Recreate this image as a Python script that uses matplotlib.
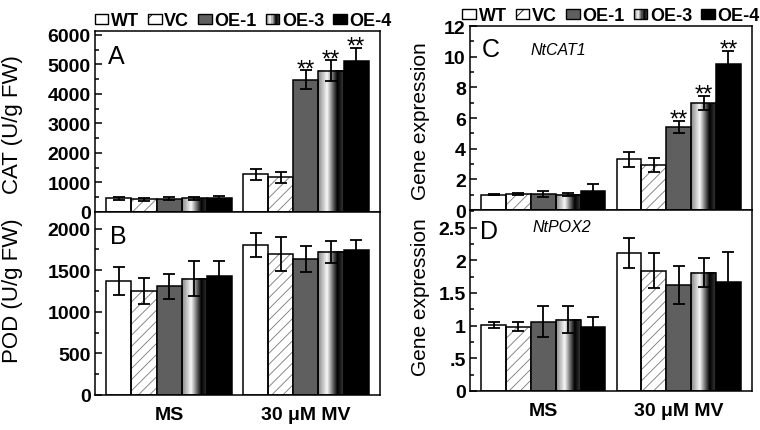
import numpy as np
import matplotlib
matplotlib.use("Agg")
import matplotlib.pyplot as plt
from matplotlib.colors import LinearSegmentedColormap
from matplotlib.patches import Rectangle, Patch
from matplotlib.legend_handler import HandlerBase
from matplotlib.ticker import MultipleLocator, FuncFormatter

plt.rcParams['font.family'] = ['Liberation Sans', 'DejaVu Sans']
plt.rcParams['font.weight'] = 'bold'
plt.rcParams['hatch.linewidth'] = 0.6

# data
groups = ["MS", "30 \u03bcM MV"]
lines = ["WT", "VC", "OE-1", "OE-3", "OE-4"]

cat_ms = [460, 425, 450, 460, 490]
cat_ms_err = [50, 50, 45, 55, 40]
cat_mv = [1280, 1170, 4480, 4780, 5130]
cat_mv_err = [190, 180, 320, 360, 420]

pod_ms = [1370, 1250, 1305, 1400, 1430]
pod_ms_err = [170, 160, 150, 215, 185]
pod_mv = [1808, 1700, 1639, 1720, 1739]
pod_mv_err = [143, 205, 155, 137, 125]

cat1_ms = [1.0, 1.05, 1.06, 1.0, 1.22]
cat1_ms_err = [0.03, 0.05, 0.18, 0.1, 0.45]
cat1_mv = [3.3, 2.95, 5.4, 6.97, 9.54]
cat1_mv_err = [0.48, 0.45, 0.41, 0.47, 0.83]

pox2_ms = [1.01, 0.985, 1.06, 1.09, 0.98]
pox2_ms_err = [0.05, 0.07, 0.24, 0.21, 0.15]
pox2_mv = [2.11, 1.84, 1.62, 1.81, 1.67]
pox2_mv_err = [0.23, 0.27, 0.29, 0.22, 0.45]

# significance marks (MV group only)
cat_sig = ["", "", "**", "**", "**"]
cat1_sig = ["", "", "**", "**", "**"]

GAP = 5.45
shade = LinearSegmentedColormap.from_list(
    "shade", [(0, "#8a8a8a"), (0.35, "#f7f7f7"), (0.75, "#000000"), (1, "#3a3a3a")])


class GradHandler(HandlerBase):
    def create_artists(self, legend, orig, xd, yd, w, h, fs, trans):
        arts = []
        n = 12
        for i in range(n):
            arts.append(Rectangle((-xd + w * i / n, -yd), w / n, h,
                                  facecolor=shade((i + 0.5) / n), edgecolor='none',
                                  transform=trans))
        arts.append(Rectangle((-xd, -yd), w, h, facecolor='none', edgecolor='black',
                              lw=1.0, transform=trans))
        return arts


def draw_panel(ax, ms, ms_err, mv, mv_err, ymax, major, minor, sig=None, fmt=None):
    for k in range(5):
        x = [k, k + GAP]
        h = [ms[k], mv[k]]
        e = [ms_err[k], mv_err[k]]
        if k == 0:
            ax.bar(x, h, width=1.0, facecolor='white', edgecolor='black', lw=1.1, zorder=2)
        elif k == 1:
            ax.bar(x, h, width=1.0, facecolor='white', edgecolor='#777777', lw=0,
                   hatch='///', zorder=1)
            ax.bar(x, h, width=1.0, facecolor='none', edgecolor='black', lw=1.1, zorder=2)
        elif k == 2:
            ax.bar(x, h, width=1.0, facecolor='#5f5f5f', edgecolor='black', lw=1.1, zorder=2)
        elif k == 3:
            bars = ax.bar(x, h, width=1.0, facecolor='none', edgecolor='black', lw=1.1, zorder=2)
            grad = np.linspace(0, 1, 64).reshape(1, -1)
            for b in bars:
                ax.imshow(grad, cmap=shade, aspect='auto', interpolation='bilinear',
                          extent=[b.get_x(), b.get_x() + b.get_width(), 0, b.get_height()],
                          zorder=1)
        else:
            ax.bar(x, h, width=1.0, facecolor='black', edgecolor='black', lw=1.1, zorder=2)
        ax.errorbar(x, h, yerr=e, fmt='none', ecolor='black', elinewidth=1.3,
                    capsize=4, capthick=1.3, zorder=3)
        if sig and sig[k]:
            ax.annotate(sig[k], (k + GAP, mv[k] + mv_err[k]), xytext=(0, -3.5),
                        textcoords='offset points', ha='center', va='baseline',
                        fontsize=17, fontweight='normal')
    ax.set_xlim(-0.95, 10.4)
    ax.set_ylim(0, ymax)
    ax.yaxis.set_major_locator(MultipleLocator(major))
    ax.yaxis.set_minor_locator(MultipleLocator(minor))
    if fmt:
        ax.yaxis.set_major_formatter(FuncFormatter(fmt))
    ax.tick_params(axis='y', which='both', direction='in', labelsize=14, pad=3, width=1.1)
    ax.tick_params(axis='y', which='major', length=5)
    ax.tick_params(axis='y', which='minor', length=3)
    ax.tick_params(axis='x', length=0, labelsize=14, pad=8)
    ax.set_xticks([2, 2 + GAP])
    for s in ax.spines.values():
        s.set_linewidth(1.1)


fig = plt.figure(figsize=(7.6, 4.31), dpi=100)
W, H = 760, 431
axA = fig.add_axes([95 / W, 1 - 213 / H, 285 / W, 181 / H])
axB = fig.add_axes([95 / W, 1 - 396 / H, 285 / W, 183 / H])
axC = fig.add_axes([470 / W, 1 - 211 / H, 282 / W, 184 / H])
axD = fig.add_axes([470 / W, 1 - 392 / H, 282 / W, 181 / H])

draw_panel(axA, cat_ms, cat_ms_err, cat_mv, cat_mv_err, 6130, 1000, 500, cat_sig)
draw_panel(axB, pod_ms, pod_ms_err, pod_mv, pod_mv_err, 2200, 500, 250)
draw_panel(axC, cat1_ms, cat1_ms_err, cat1_mv, cat1_mv_err, 12, 2, 1, cat1_sig)


def pox_fmt(v, pos):
    s = "%g" % v
    return s[1:] if s.startswith("0.") else s


draw_panel(axD, pox2_ms, pox2_ms_err, pox2_mv, pox2_mv_err, 2.77, 0.5, 0.25, fmt=pox_fmt)

for ax in (axA, axC):
    ax.set_xticklabels([])
for ax in (axB, axD):
    ax.set_xticklabels(groups)

axA.text(0.045, 0.93, "A", transform=axA.transAxes, ha='left', va='top', fontsize=18, fontweight='normal')
axB.text(0.053, 0.935, "B", transform=axB.transAxes, ha='left', va='top', fontsize=18, fontweight='normal')
axC.text(0.043, 0.94, "C", transform=axC.transAxes, ha='left', va='top', fontsize=18, fontweight='normal')
axD.text(0.035, 0.95, "D", transform=axD.transAxes, ha='left', va='top', fontsize=18, fontweight='normal')
axC.text(0.213, 0.875, "NtCAT1", transform=axC.transAxes, ha='left', va='center',
         fontsize=11.5, fontweight='normal', style='italic')
axD.text(0.22, 0.91, "NtPOX2", transform=axD.transAxes, ha='left', va='center',
         fontsize=11.5, fontweight='normal', style='italic')

fig.text(13 / W, 1 - 125 / H, "CAT (U/g FW)", rotation=90, ha='center', va='center',
         fontsize=16, fontweight='normal')
fig.text(13 / W, 1 - 291 / H, "POD (U/g FW)", rotation=90, ha='center', va='center',
         fontsize=16, fontweight='normal')
fig.text(421 / W, 1 - 121 / H, "Gene expression", rotation=90, ha='center', va='center',
         fontsize=15, fontweight='normal')
fig.text(420 / W, 1 - 297 / H, "Gene expression", rotation=90, ha='center', va='center',
         fontsize=15, fontweight='normal')

handles = [Patch(facecolor='white', edgecolor='black', lw=1.0),
           Patch(facecolor='white', edgecolor='black', lw=1.0, hatch='/'),
           Patch(facecolor='#5f5f5f', edgecolor='black', lw=1.0),
           Patch(facecolor='#888888'),
           Patch(facecolor='black', edgecolor='black', lw=1.0)]
for ax, xa in ((axA, 0.52), (axC, 0.5)):
    ax.legend(handles, lines, loc='lower center', bbox_to_anchor=(xa, 1.0), ncol=5,
              frameon=False, fontsize=13, handlelength=0.75, handleheight=0.5,
              handletextpad=0.15, columnspacing=0.5, borderpad=0, borderaxespad=0.1,
              handler_map={handles[3]: GradHandler()})

fig.savefig("out.png", dpi=100)
